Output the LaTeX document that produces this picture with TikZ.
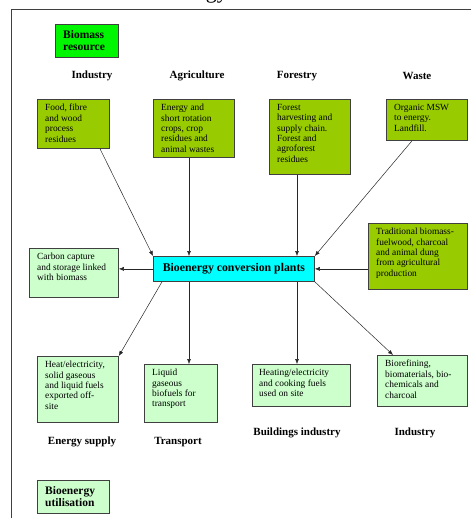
\documentclass[tikz,border=0pt]{standalone}
\usepackage{fontspec}
\setmainfont{Liberation Serif}
\usetikzlibrary{arrows.meta}
\definecolor{resbright}{RGB}{0,245,0}
\definecolor{resgreen}{RGB}{153,204,0}
\definecolor{usegreen}{RGB}{204,255,204}
\definecolor{convcyan}{RGB}{0,255,255}
\begin{document}
\begin{tikzpicture}[x=1pt,y=-1pt,
  box/.style={draw=black!75, line width=0.8pt, anchor=north west, inner sep=0pt},
  txt/.style={anchor=north west, align=left, inner sep=0pt, font=\fontsize{9.4}{10.4}\selectfont},
  legtxt/.style={anchor=north west, align=left, inner sep=0pt, font=\fontsize{11.5}{12.5}\selectfont\bfseries},
  hdr/.style={font=\fontsize{11}{13}\selectfont\bfseries, inner sep=0pt},
  arr/.style={-{Latex[length=5pt,width=4pt]}, line width=0.5pt, black!85}]
\useasboundingbox (0,0) rectangle (471,518);
% partial title at top
\node[font=\fontsize{22}{22}\selectfont, anchor=base east, inner sep=0pt] (title) at (228,-1) {Bioenergy};
% frame
\draw[line width=0.7pt, black!75] (471,9) -- (11,9) -- (11,518);

% legend boxes
\node[box, fill=resbright, minimum width=63pt, minimum height=33pt] (bres) at (55,24) {};
\node[legtxt] (bres-t) at ([xshift=8pt,yshift=-6pt]bres.north west) {Biomass\\resource};
\node[box, fill=usegreen, minimum width=72pt, minimum height=33pt] (buse) at (37,480) {};
\node[legtxt] (buse-t) at ([xshift=8pt,yshift=-6pt]buse.north west) {Bioenergy\\utilisation};

% headers
\node[hdr] (h1) at (92,76) {Industry};
\node[hdr] (h2) at (197,76) {Agriculture};
\node[hdr] (h3) at (297,76) {Forestry};
\node[hdr] (h4) at (417,76) {Waste};
\node[hdr] (h5) at (82,442) {Energy supply};
\node[hdr] (h6) at (178,442) {Transport};
\node[hdr] (h7) at (297,433) {Buildings industry};
\node[hdr] (h8) at (415,433) {Industry};

% resource boxes
\node[box, fill=resgreen, minimum width=72pt, minimum height=49pt] (ind) at (37,99) {};
\node[txt] (ind-t) at ([xshift=8pt,yshift=-5pt]ind.north west) {Food, fibre\\and wood\\process\\residues};
\node[box, fill=resgreen, minimum width=81pt, minimum height=58pt] (agr) at (153,99) {};
\node[txt] (agr-t) at ([xshift=8pt,yshift=-5pt]agr.north west) {Energy and\\short rotation\\crops, crop\\residues and\\animal wastes};
\node[box, fill=resgreen, minimum width=81pt, minimum height=75pt] (for) at (269,99) {};
\node[txt] (for-t) at ([xshift=8pt,yshift=-5pt]for.north west) {Forest\\harvesting and\\supply chain.\\Forest and\\agroforest\\residues};
\node[box, fill=resgreen, minimum width=81pt, minimum height=41pt] (was) at (386,99) {};
\node[txt] (was-t) at ([xshift=8pt,yshift=-5pt]was.north west) {Organic MSW\\to energy.\\Landfill.};
\node[box, fill=resgreen, minimum width=99pt, minimum height=66pt] (trad) at (368,223) {};
\node[txt] (trad-t) at ([xshift=8pt,yshift=-5pt]trad.north west) {Traditional biomass-\\fuelwood, charcoal\\and animal dung\\from agricultural\\production};

% conversion
\node[box, fill=convcyan, minimum width=161pt, minimum height=25pt, font=\fontsize{11.8}{13}\selectfont\bfseries] (conv) at (153,256) {Bioenergy conversion plants};

% use boxes
\node[box, fill=usegreen, minimum width=89pt, minimum height=49pt] (cc) at (29,248) {};
\node[txt] (cc-t) at ([xshift=8pt,yshift=-5pt]cc.north west) {Carbon capture\\and storage linked\\with biomass};
\node[box, fill=usegreen, minimum width=81pt, minimum height=66pt] (heat) at (37,356) {};
\node[txt] (heat-t) at ([xshift=8pt,yshift=-5pt]heat.north west) {Heat/electricity,\\solid gaseous\\and liquid fuels\\exported off-\\site};
\node[box, fill=usegreen, minimum width=73pt, minimum height=58pt] (liq) at (144,364) {};
\node[txt] (liq-t) at ([xshift=8pt,yshift=-5pt]liq.north west) {Liquid\\gaseous\\biofuels for\\transport};
\node[box, fill=usegreen, minimum width=98pt, minimum height=42pt] (hcf) at (252,364) {};
\node[txt] (hcf-t) at ([xshift=7pt,yshift=-5pt]hcf.north west) {Heating/electricity\\and cooking fuels\\used on site};
\node[box, fill=usegreen, minimum width=90pt, minimum height=51pt] (bref) at (377,355) {};
\node[txt] (bref-t) at ([xshift=8pt,yshift=-5pt]bref.north west) {Biorefining,\\biomaterials, bio-\\chemicals and\\charcoal};

% arrows in
\draw[arr] ([xshift=63pt]ind.south west) -- (conv.north west);
\draw[arr] ([xshift=36pt]agr.south west) -- ([xshift=36pt]conv.north west);
\draw[arr] ([xshift=28pt]for.south west) -- ([xshift=144pt]conv.north west);
\draw[arr] ([xshift=26pt]was.south west) -- (conv.north east);
\draw[arr] (trad.west |- conv.east) -- (conv.east);
% arrows out
\draw[arr] (conv.west) -- (cc.east |- conv.west);
\draw[arr] ([xshift=9pt]conv.south west) -- (heat.north east);
\draw[arr] ([xshift=36pt]conv.south west) -- ([xshift=45pt]liq.north west);
\draw[arr] ([xshift=144pt]conv.south west) -- ([xshift=45pt]hcf.north west);
\draw[arr] (conv.south east) -- ([xshift=16pt]bref.north west);
\end{tikzpicture}
\end{document}
